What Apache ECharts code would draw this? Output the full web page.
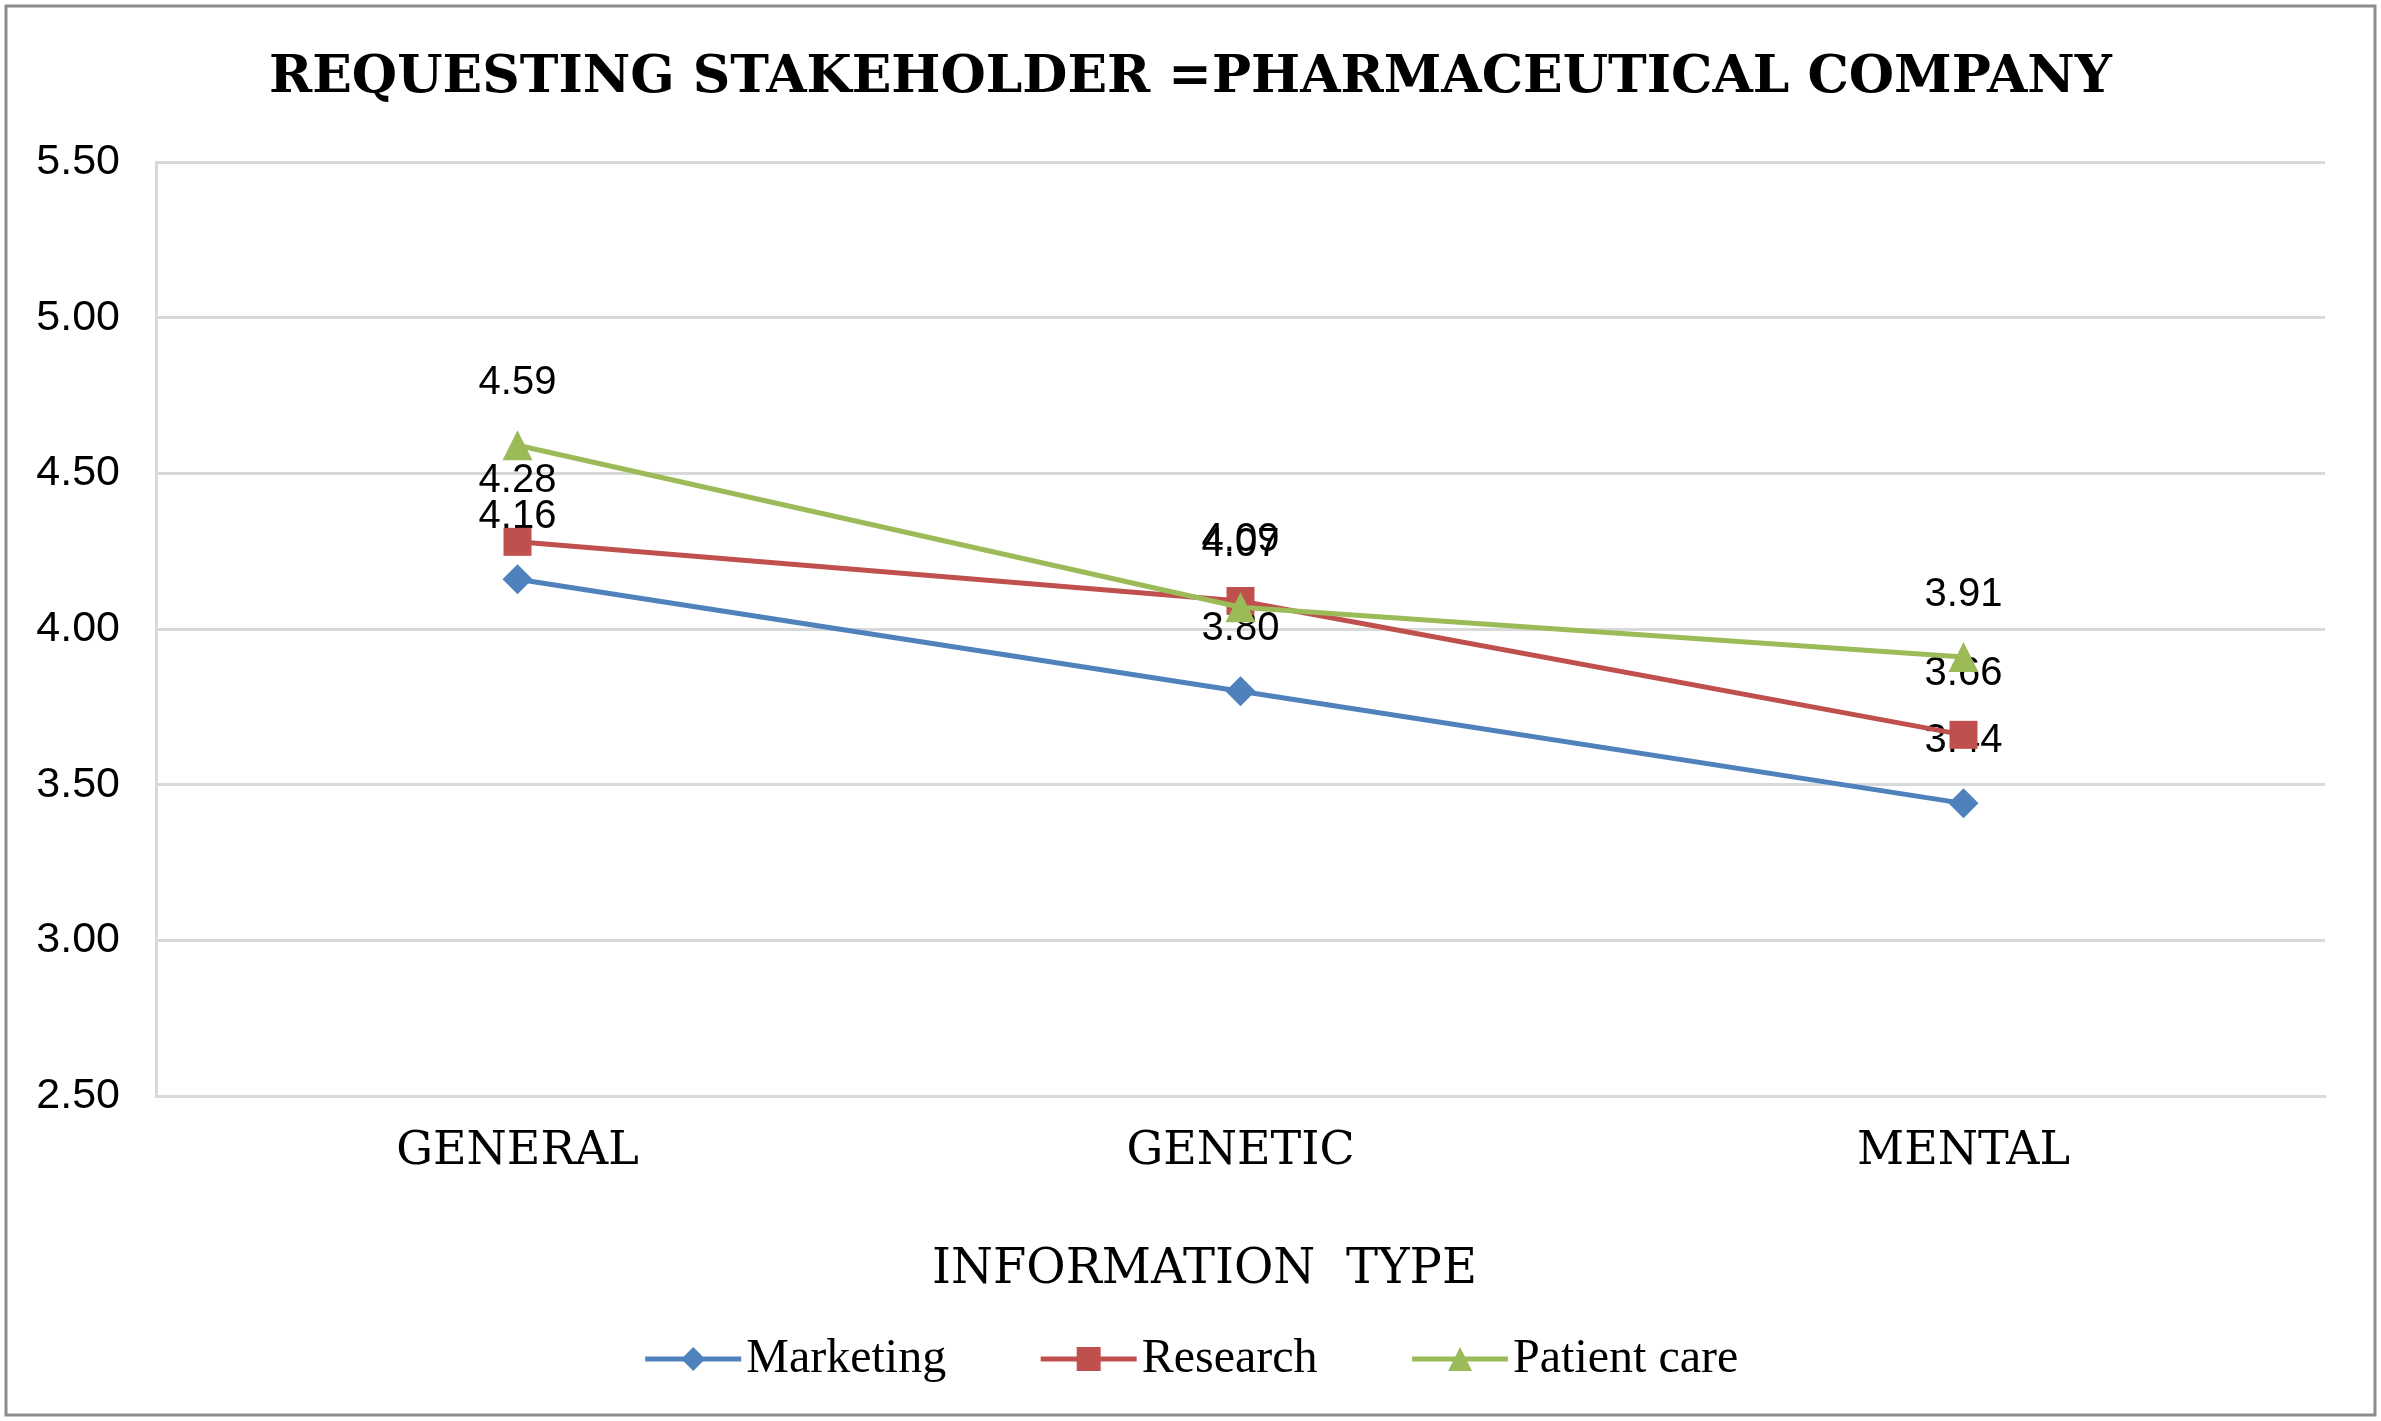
<!DOCTYPE html>
<html>
<head>
<meta charset="utf-8">
<script src="https://cdn.jsdelivr.net/npm/echarts@6/dist/echarts.min.js"></script>
<style>
html,body{margin:0;padding:0;background:#fff;}
#chart{width:2381px;height:1421px;}
</style>
</head>
<body>
<div id="chart"></div>
<script>
const titleText = 'REQUESTING STAKEHOLDER =PHARMACEUTICAL COMPANY';
const categories = ['GENERAL', 'GENETIC', 'MENTAL'];
const xAxisName = 'INFORMATION  TYPE';
const seriesNames = ['Marketing', 'Research', 'Patient care'];
const marketing = [4.16, 3.80, 3.44];
const research = [4.28, 4.09, 3.66];
const patientCare = [4.59, 4.07, 3.91];
const yMin = 2.5, yMax = 5.5, yStep = 0.5;

const colors = ['#4F81BD', '#C0504D', '#9BBB59'];
const symbols = ['diamond', 'rect', 'triangle'];
const symbolSizes = [30, 28, 30];
const dataSets = [marketing, research, patientCare];

const chart = echarts.init(document.getElementById('chart'), null, {renderer: 'canvas'});

const series = seriesNames.map((name, i) => ({
  name: name,
  type: 'line',
  data: dataSets[i],
  symbol: symbols[i],
  symbolSize: symbolSizes[i],
  showAllSymbol: true,
  lineStyle: {color: colors[i], width: 5},
  itemStyle: {color: colors[i]},
  label: {
    show: true,
    position: 'top',
    distance: 27,
    color: '#000',
    fontFamily: 'Liberation Sans',
    fontSize: 40,
    formatter: p => p.value.toFixed(2)
  },
  emphasis: {disabled: true},
  animation: false,
  z: 2 + i
}));

chart.setOption({
  backgroundColor: '#fff',
  animation: false,
  title: {
    text: titleText,
    left: 'center',
    top: 47,
    textStyle: {
      fontFamily: 'DejaVu Serif',
      fontWeight: 'bold',
      fontSize: 52,
      color: '#000'
    }
  },
  graphic: [{
    type: 'rect',
    shape: {x: 6, y: 6, width: 2369, height: 1409},
    style: {fill: 'none', stroke: '#8c8c8c', lineWidth: 3},
    silent: true,
    z: 100
  }],
  legend: {
    data: seriesNames,
    left: 'center',
    top: 1330,
    itemWidth: 96,
    itemHeight: 30,
    itemGap: 92,
    lineStyle: {width: 5},
    textStyle: {
      fontFamily: 'Liberation Serif',
      fontSize: 48,
      color: '#000'
    }
  },
  grid: {
    left: 156,
    right: 56,
    top: 162,
    bottom: 325,
    containLabel: false
  },
  xAxis: {
    type: 'category',
    data: categories,
    boundaryGap: true,
    name: xAxisName,
    nameLocation: 'middle',
    nameGap: 151,
    nameTextStyle: {
      fontFamily: 'DejaVu Serif',
      fontSize: 48,
      color: '#000',
      padding: [0, 72, 0, 0]
    },
    axisLine: {show: true, lineStyle: {color: '#D9D9D9', width: 3}},
    axisTick: {show: false},
    axisLabel: {
      margin: 33,
      fontFamily: 'DejaVu Serif',
      fontSize: 46,
      color: '#000'
    },
    splitLine: {show: false}
  },
  yAxis: {
    type: 'value',
    min: yMin,
    max: yMax,
    interval: yStep,
    axisLine: {show: true, lineStyle: {color: '#D9D9D9', width: 3}},
    axisTick: {show: false},
    axisLabel: {
      margin: 36,
      fontFamily: 'Liberation Sans',
      fontSize: 43,
      color: '#000',
      formatter: v => v.toFixed(2)
    },
    splitLine: {show: true, lineStyle: {color: '#D9D9D9', width: 3}}
  },
  series: series
});
</script>
</body>
</html>
